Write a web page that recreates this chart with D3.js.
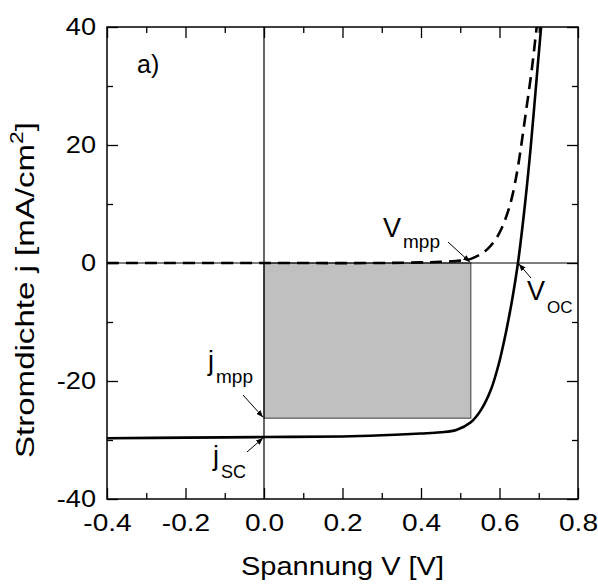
<!DOCTYPE html>
<html>
<head>
<meta charset="utf-8">
<script src="https://cdn.jsdelivr.net/npm/d3@7"></script>
<style>
  body { margin: 0; background: #fff; }
  text { font-family: "Liberation Sans", Arial, sans-serif; fill: #000; }
</style>
</head>
<body>
<svg id="chart" width="598" height="585"></svg>
<script>
// J-V characteristic under illumination (solid) and in the dark (dashed)
const lightV = [-0.4, -0.2, 0.0, 0.2, 0.3, 0.4, 0.45, 0.49, 0.527, 0.553, 0.578, 0.599, 0.616, 0.632, 0.647, 0.665, 0.68, 0.693, 0.706, 0.712];
const lightJ = [-29.7, -29.6, -29.5, -29.4, -29.2, -28.9, -28.7, -28.3, -27.0, -24.9, -21.5, -16.9, -11.9, -6.3, 0, 10, 20, 30, 40, 44];

const darkV = [-0.4, 0.0, 0.3, 0.4, 0.45, 0.5, 0.527, 0.55, 0.57, 0.59, 0.605, 0.62, 0.632, 0.647, 0.668, 0.683, 0.693, 0.698];
const darkJ = [0.0, 0.0, 0.0, 0.1, 0.2, 0.4, 0.7, 1.4, 2.4, 4.0, 5.8, 8.4, 11.2, 16.3, 25.9, 33.2, 39, 42];

// characteristic points
const vMpp = 0.527, jMpp = -26.3, jSc = -29.5, vOc = 0.647;

const xMajor = [-0.4, -0.2, 0.0, 0.2, 0.4, 0.6, 0.8];
const xTickLabels = ["-0.4", "-0.2", "0.0", "0.2", "0.4", "0.6", "0.8"];
const xMinor = [-0.3, -0.1, 0.1, 0.3, 0.5, 0.7];
const yMajor = [-40, -20, 0, 20, 40];
const yTickLabels = ["-40", "-20", "0", "20", "40"];
const yMinor = [-30, -10, 10, 30];

const svg = d3.select("#chart");
const L = 107, R = 578, T = 27, B = 499;

const x = d3.scaleLinear().domain([-0.4, 0.8]).range([L, R]);
const y = d3.scaleLinear().domain([-40, 40]).range([B, T]);

// stretch text horizontally by factor k around its anchor
function widen(sel, k) {
  sel.each(function () {
    const w = this.getComputedTextLength();
    d3.select(this).attr("textLength", w * k).attr("lengthAdjust", "spacingAndGlyphs");
  });
}

svg.append("defs").append("clipPath").attr("id", "plot")
  .append("rect").attr("x", L).attr("y", T).attr("width", R - L).attr("height", B - T);

// power rectangle at the maximum power point
svg.append("rect")
  .attr("x", x(0)).attr("y", y(0))
  .attr("width", x(vMpp) - x(0)).attr("height", y(jMpp) - y(0))
  .attr("fill", "#c0c0c0").attr("stroke", "#3c3c3c").attr("stroke-width", 1);

// zero lines
svg.append("line").attr("x1", x(0)).attr("x2", x(0)).attr("y1", T).attr("y2", B)
  .attr("stroke", "#000").attr("stroke-width", 1.2);
svg.append("line").attr("x1", L).attr("x2", R).attr("y1", y(0)).attr("y2", y(0))
  .attr("stroke", "#000").attr("stroke-width", 1.2);

// curves
const line = d3.line().x(d => x(d[0])).y(d => y(d[1])).curve(d3.curveCatmullRom.alpha(0.5));
const plot = svg.append("g").attr("clip-path", "url(#plot)");
plot.append("path")
  .datum(darkV.map((v, i) => [v, darkJ[i]]))
  .attr("d", line).attr("fill", "none").attr("stroke", "#000")
  .attr("stroke-width", 2.6).attr("stroke-dasharray", "12,7");
plot.append("path")
  .datum(lightV.map((v, i) => [v, lightJ[i]]))
  .attr("d", line).attr("fill", "none").attr("stroke", "#000")
  .attr("stroke-width", 2.6);

// axes: ticks pointing inward on all four sides
function styleAxis(g) {
  g.select(".domain").remove();
  g.selectAll(".tick line").attr("stroke", "#000").attr("stroke-width", 1.3);
}
const fmtX = d => xTickLabels[xMajor.findIndex(v => Math.abs(v - d) < 1e-9)];
const fmtY = d => yTickLabels[yMajor.indexOf(d)];

const gx = svg.append("g").attr("transform", `translate(0,${B})`)
  .call(d3.axisBottom(x).tickValues(xMajor).tickSize(-11).tickPadding(16).tickFormat(fmtX))
  .call(styleAxis);
svg.append("g").attr("transform", `translate(0,${B})`)
  .call(d3.axisBottom(x).tickValues(xMinor).tickSize(-6).tickFormat(""))
  .call(styleAxis);
svg.append("g").attr("transform", `translate(0,${T})`)
  .call(d3.axisTop(x).tickValues(xMajor).tickSize(-11).tickFormat(""))
  .call(styleAxis);
svg.append("g").attr("transform", `translate(0,${T})`)
  .call(d3.axisTop(x).tickValues(xMinor).tickSize(-6).tickFormat(""))
  .call(styleAxis);

const gy = svg.append("g").attr("transform", `translate(${L},0)`)
  .call(d3.axisLeft(y).tickValues(yMajor).tickSize(-11).tickPadding(11).tickFormat(fmtY))
  .call(styleAxis);
svg.append("g").attr("transform", `translate(${L},0)`)
  .call(d3.axisLeft(y).tickValues(yMinor).tickSize(-6).tickFormat(""))
  .call(styleAxis);
svg.append("g").attr("transform", `translate(${R},0)`)
  .call(d3.axisRight(y).tickValues(yMajor).tickSize(-11).tickFormat(""))
  .call(styleAxis);
svg.append("g").attr("transform", `translate(${R},0)`)
  .call(d3.axisRight(y).tickValues(yMinor).tickSize(-6).tickFormat(""))
  .call(styleAxis);

[gx, gy].forEach(g => g.selectAll(".tick text")
  .attr("font-family", "Liberation Sans, Arial, sans-serif")
  .attr("font-size", 23).attr("fill", "#000"));
widen(gx.selectAll(".tick text"), 1.22);
widen(gy.selectAll(".tick text"), 1.18);

// frame
svg.append("rect").attr("x", L).attr("y", T).attr("width", R - L).attr("height", B - T)
  .attr("fill", "none").attr("stroke", "#000").attr("stroke-width", 1.5);

// axis titles
const xt = svg.append("text").attr("x", (L + R) / 2).attr("y", 575)
  .attr("text-anchor", "middle").attr("font-size", 25).text("Spannung V [V]");
xt.attr("textLength", 203).attr("lengthAdjust", "spacingAndGlyphs");

const yt = svg.append("text").attr("transform", "translate(34,290) rotate(-90)")
  .attr("text-anchor", "middle").attr("font-size", 26);
yt.append("tspan").text("Stromdichte j [mA/cm");
yt.append("tspan").attr("font-size", 18).attr("dy", -11).text("2");
yt.append("tspan").attr("dy", 11).text("]");
yt.attr("textLength", 336).attr("lengthAdjust", "spacingAndGlyphs");

// panel label
svg.append("text").attr("x", 137).attr("y", 73).attr("font-size", 25).text("a)");

// annotations with arrows
const defs = svg.select("defs");
defs.append("marker").attr("id", "arrow").attr("viewBox", "0 0 10 10")
  .attr("refX", 10).attr("refY", 5).attr("markerWidth", 7).attr("markerHeight", 7)
  .attr("markerUnits", "userSpaceOnUse").attr("orient", "auto")
  .append("path").attr("d", "M0,1 L10,5 L0,9 Z").attr("fill", "#000");

function label(xp, yp, main, sub, mainSize, subSize, subDy) {
  const t = svg.append("text").attr("x", xp).attr("y", yp).attr("font-size", mainSize);
  t.append("tspan").text(main);
  t.append("tspan").attr("font-size", subSize).attr("dy", subDy).attr("dx", 2).text(sub);
  return t;
}
function arrow(x1, y1, x2, y2) {
  svg.append("line").attr("x1", x1).attr("y1", y1).attr("x2", x2).attr("y2", y2)
    .attr("stroke", "#000").attr("stroke-width", 1).attr("marker-end", "url(#arrow)");
}

label(383, 237, "V", "mpp", 27, 19, 11);
arrow(448, 242, x(vMpp) - 1, y(0) - 1);

label(527, 300, "V", "OC", 27, 17, 13);
arrow(531, 278, x(vOc) + 1, y(0) + 1);

label(208, 370, "j", "mpp", 27, 19, 13);
arrow(243, 395, x(0) - 1, y(jMpp) - 1);

label(213, 465, "j", "SC", 27, 18, 13);
arrow(247, 452, x(0) - 1, y(jSc) + 1);
</script>
</body>
</html>
